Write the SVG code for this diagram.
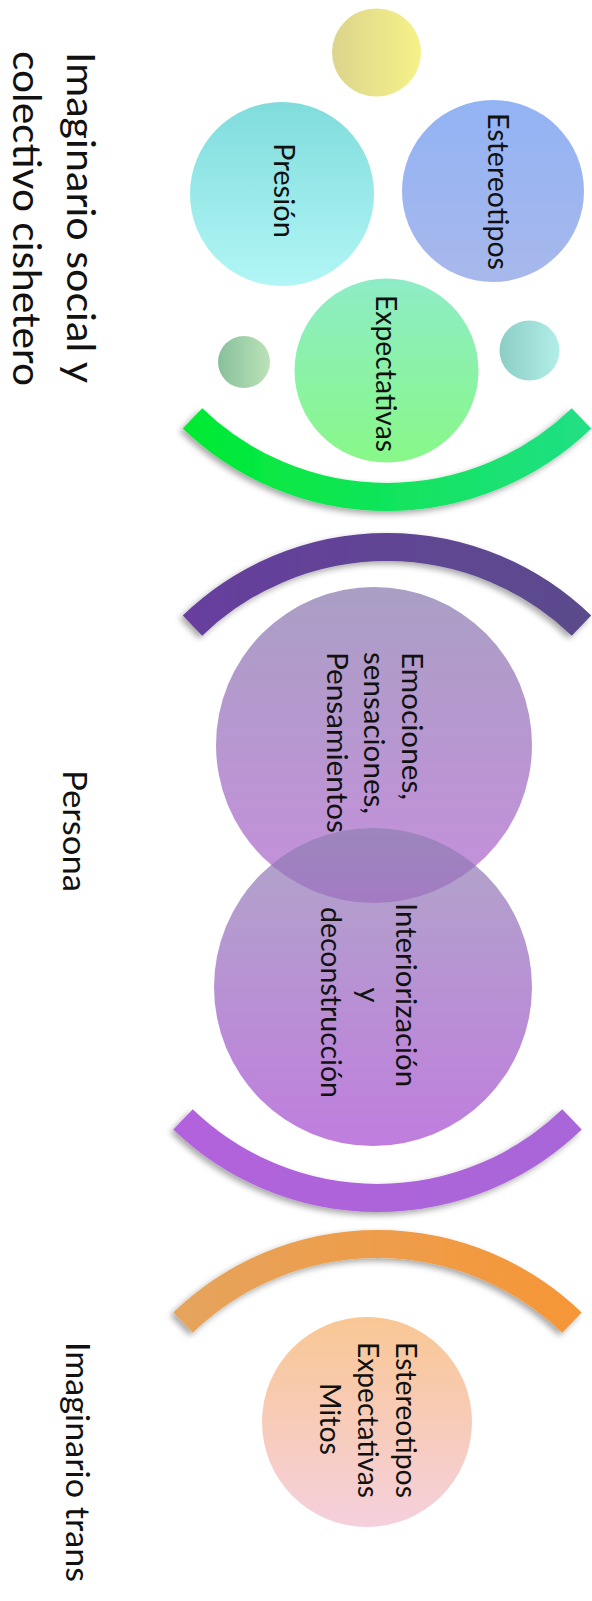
<svg xmlns="http://www.w3.org/2000/svg" width="592" height="1601" viewBox="0 0 592 1601">
  <style>
    .lbl { font-family: Lato, "Open Sans", "Liberation Sans", sans-serif; fill: #111; }
    .node { font-size: 29px; }
    .head { font-size: 39px; }
    .arc { fill: none; stroke-width: 28; stroke-linecap: butt; filter: url(#shadow); }
  </style>
  <defs>
    <filter id="shadow" x="-20%" y="-20%" width="140%" height="160%">
      <feDropShadow dx="-3" dy="3" stdDeviation="3" flood-color="#000" flood-opacity="0.35"/>
    </filter>
    <!-- circle fills (top to bottom) -->
    <linearGradient id="gPresion" x1="0" y1="0" x2="0" y2="1">
      <stop offset="0" stop-color="#80dcdc"/>
      <stop offset="1" stop-color="#b2f6f6"/>
    </linearGradient>
    <linearGradient id="gEstereo" x1="0" y1="0" x2="0" y2="1">
      <stop offset="0" stop-color="#92b3f4"/>
      <stop offset="1" stop-color="#a8b8ec"/>
    </linearGradient>
    <linearGradient id="gExpect" x1="0" y1="0" x2="0" y2="1">
      <stop offset="0" stop-color="#8eecc6"/>
      <stop offset="1" stop-color="#88f888"/>
    </linearGradient>
    <linearGradient id="gEmoc" x1="0" y1="0" x2="0" y2="1">
      <stop offset="0" stop-color="#8676ac"/>
      <stop offset="1" stop-color="#ad5fcd"/>
    </linearGradient>
    <linearGradient id="gInter" x1="0" y1="0" x2="0" y2="1">
      <stop offset="0" stop-color="#8e80b1"/>
      <stop offset="1" stop-color="#a547d0"/>
    </linearGradient>
    <linearGradient id="gTrans" x1="0" y1="0" x2="0" y2="1">
      <stop offset="0" stop-color="#f9c794"/>
      <stop offset="1" stop-color="#f5d0dd"/>
    </linearGradient>
    <!-- small circle fills (left to right) -->
    <linearGradient id="gYellow" x1="0" y1="0" x2="1" y2="0">
      <stop offset="0" stop-color="#dcd48c"/>
      <stop offset="1" stop-color="#f6f288"/>
    </linearGradient>
    <linearGradient id="gSmallL" x1="0" y1="0" x2="1" y2="0">
      <stop offset="0" stop-color="#88c09c"/>
      <stop offset="1" stop-color="#bce2b8"/>
    </linearGradient>
    <linearGradient id="gSmallR" x1="0" y1="0" x2="1" y2="0">
      <stop offset="0" stop-color="#8ccec6"/>
      <stop offset="1" stop-color="#b2eee8"/>
    </linearGradient>
    <!-- bracket arcs -->
    <linearGradient id="gArcGreen" gradientUnits="userSpaceOnUse" x1="180" y1="0" x2="592" y2="0">
      <stop offset="0" stop-color="#00ea30"/>
      <stop offset="1" stop-color="#22df86"/>
    </linearGradient>
    <linearGradient id="gArcDark" gradientUnits="userSpaceOnUse" x1="180" y1="0" x2="592" y2="0">
      <stop offset="0" stop-color="#673e9e"/>
      <stop offset="1" stop-color="#5a4b8b"/>
    </linearGradient>
    <linearGradient id="gArcLav" gradientUnits="userSpaceOnUse" x1="170" y1="0" x2="585" y2="0">
      <stop offset="0" stop-color="#b262dc"/>
      <stop offset="1" stop-color="#a866d8"/>
    </linearGradient>
    <linearGradient id="gArcOrange" gradientUnits="userSpaceOnUse" x1="170" y1="0" x2="585" y2="0">
      <stop offset="0" stop-color="#e5a45e"/>
      <stop offset="1" stop-color="#f69636"/>
    </linearGradient>
  </defs>

  <rect width="592" height="1601" fill="#ffffff"/>

  <!-- side headings -->
  <g id="heading-social" class="lbl head">
    <text transform="translate(67 52) rotate(90)" textLength="331" lengthAdjust="spacingAndGlyphs">Imaginario social y</text>
    <text transform="translate(13 51) rotate(90)" textLength="335" lengthAdjust="spacingAndGlyphs">colectivo cishetero</text>
  </g>
  <g id="heading-persona" class="lbl">
    <text transform="translate(63 770) rotate(90)" font-size="33" textLength="122" lengthAdjust="spacingAndGlyphs">Persona</text>
  </g>
  <g id="heading-trans" class="lbl">
    <text transform="translate(66 1342) rotate(90)" font-size="32" textLength="240" lengthAdjust="spacingAndGlyphs">Imaginario trans</text>
  </g>

  <!-- brackets -->
  <g id="connectors">
    <path class="arc" stroke="url(#gArcGreen)" d="M192.5 418.4 A280 280 0 0 0 581.5 418.4"/>
    <path class="arc" stroke="url(#gArcDark)" d="M192.5 625.6 A280 280 0 0 1 581.5 625.6"/>
    <path class="arc" stroke="url(#gArcLav)" d="M183 1119.4 A280 280 0 0 0 572 1119.4"/>
    <path class="arc" stroke="url(#gArcOrange)" d="M183 1322.6 A280 280 0 0 1 572 1322.6"/>
  </g>

  <!-- social imaginary cluster -->
  <g id="dot-yellow">
    <ellipse cx="376.5" cy="52.5" rx="44.5" ry="44" fill="url(#gYellow)"/>
  </g>
  <g id="node-presion">
    <circle cx="282" cy="194" r="92" fill="url(#gPresion)"/>
    <text class="lbl node" transform="translate(274 143) rotate(90)" textLength="95" lengthAdjust="spacingAndGlyphs">Presión</text>
  </g>
  <g id="node-estereotipos">
    <circle cx="493" cy="191" r="91" fill="url(#gEstereo)"/>
    <text class="lbl node" transform="translate(488 113) rotate(90)" textLength="157" lengthAdjust="spacingAndGlyphs">Estereotipos</text>
  </g>
  <g id="dot-left">
    <circle cx="244" cy="362" r="26" fill="url(#gSmallL)"/>
  </g>
  <g id="dot-right">
    <circle cx="529.5" cy="350.5" r="30" fill="url(#gSmallR)"/>
  </g>
  <g id="node-expectativas">
    <circle cx="386.5" cy="370.5" r="92" fill="url(#gExpect)"/>
    <text class="lbl node" transform="translate(376 295) rotate(90)" textLength="157" lengthAdjust="spacingAndGlyphs">Expectativas</text>
  </g>

  <!-- person: two overlapping circles -->
  <g id="node-emociones">
    <circle cx="374" cy="745" r="158" fill="url(#gEmoc)" fill-opacity="0.7"/>
    <text class="lbl node" transform="translate(402 652) rotate(90)" textLength="148" lengthAdjust="spacingAndGlyphs">Emociones,</text>
    <text class="lbl node" transform="translate(364 652) rotate(90)" textLength="162" lengthAdjust="spacingAndGlyphs">sensaciones,</text>
    <text class="lbl node" transform="translate(327 652) rotate(90)" textLength="181" lengthAdjust="spacingAndGlyphs">Pensamientos</text>
  </g>
  <g id="node-interiorizacion">
    <circle cx="373" cy="987" r="159" fill="url(#gInter)" fill-opacity="0.7"/>
    <text class="lbl node" transform="translate(396 903) rotate(90)" textLength="184" lengthAdjust="spacingAndGlyphs">Interiorización</text>
    <text class="lbl node" transform="translate(359 995) rotate(90)" text-anchor="middle">y</text>
    <text class="lbl node" transform="translate(321 907) rotate(90)" textLength="191" lengthAdjust="spacingAndGlyphs">deconstrucción</text>
  </g>

  <!-- trans imaginary -->
  <g id="node-trans">
    <circle cx="367" cy="1422" r="105" fill="url(#gTrans)"/>
    <text class="lbl node" transform="translate(396 1342) rotate(90)" textLength="156" lengthAdjust="spacingAndGlyphs">Estereotipos</text>
    <text class="lbl node" transform="translate(358 1342) rotate(90)" textLength="156" lengthAdjust="spacingAndGlyphs">Expectativas</text>
    <text class="lbl node" transform="translate(320 1383) rotate(90)" textLength="72" lengthAdjust="spacingAndGlyphs">Mitos</text>
  </g>
</svg>
